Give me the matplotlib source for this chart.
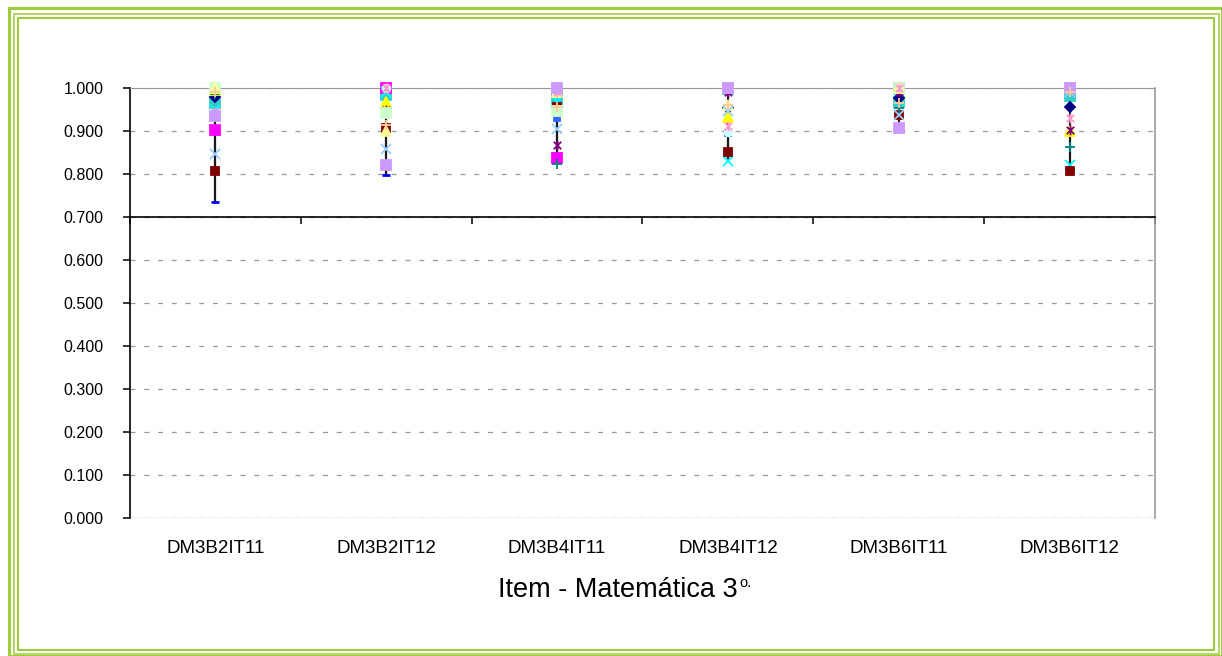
import matplotlib
matplotlib.use("Agg")
import matplotlib.pyplot as plt
from matplotlib.patches import Rectangle
from matplotlib.path import Path
from matplotlib.transforms import blended_transform_factory
import numpy as np

plt.rcParams["font.family"] = ["Liberation Sans", "DejaVu Sans"]

categories = ["DM3B2IT11", "DM3B2IT12", "DM3B4IT11", "DM3B4IT12", "DM3B6IT11", "DM3B6IT12"]

s01_navy = [0.979, 0.953, 0.956, 0.953, 0.977, 0.956]
s02_magenta = [0.902, 1.000, 0.838, 1.000, 1.000, 1.000]
s03_yellow = [0.995, 0.968, 0.990, 0.933, 1.000, 0.900]
s04_cyan = [0.950, 0.990, 0.970, 0.830, 0.995, 0.820]
s05_purple = [1.000, 0.950, 0.867, 0.990, 0.990, 0.902]
s06_darkred = [0.807, 0.907, 0.955, 0.851, 0.937, 0.807]
s07_teal = [0.985, 0.945, 0.823, 0.960, 0.953, 0.863]
s08_blue = [0.735, 0.797, 0.990, 0.990, 0.990, 0.990]
s09_aqua = [0.965, 0.984, 0.975, 0.997, 0.968, 0.981]
s10_turq = [1.000, 1.000, 1.000, 0.898, 1.000, 1.000]
s11_lgreen = [1.000, 0.942, 0.947, 1.000, 1.000, 1.000]
s12_lyellow = [1.000, 0.900, 0.990, 0.960, 1.000, 1.000]
s13_paleblue = [0.847, 0.858, 0.905, 0.947, 0.937, 0.990]
s14_rose = [0.945, 1.000, 0.990, 0.912, 1.000, 0.930]
s15_lavender = [0.935, 0.820, 1.000, 1.000, 0.907, 1.000]
s16_tan = [0.990, 0.914, 0.955, 0.960, 0.965, 0.990]
s17_royal = [0.990, 0.990, 0.930, 0.895, 0.975, 0.990]

y_ticks = [0.0, 0.1, 0.2, 0.3, 0.4, 0.5, 0.6, 0.7, 0.8, 0.9, 1.0]
x_title = "Item - Matemática 3"

# excel style asterisk: x with a vertical bar
star = Path([(-1, -1), (1, 1), (-1, 1), (1, -1), (0, -1.3), (0, 1.3)],
            [Path.MOVETO, Path.LINETO, Path.MOVETO, Path.LINETO, Path.MOVETO, Path.LINETO])

# draw order matters: later series sit on top
series = [
    (s17_royal, "#3366FF", "s", 4),
    (s09_aqua, "#33CCCC", "s", 6.5),
    (s01_navy, "#000080", "D", 5.5),
    (s02_magenta, "#FF00FF", "s", 6.5),
    (s03_yellow, "#FFFF00", "^", 6.5),
    (s04_cyan, "#00FFFF", "x", 6.5),
    (s05_purple, "#800080", star, 7),
    (s06_darkred, "#800000", "s", 6),
    (s07_teal, "#008080", "+", 7.5),
    (s08_blue, "#0000FF", "_", 6),
    (s10_turq, "#CCFFFF", "o", 5.5),
    (s11_lgreen, "#CCFFCC", "s", 6.5),
    (s12_lyellow, "#FFFF99", "^", 6.5),
    (s13_paleblue, "#99CCFF", "x", 7.5),
    (s14_rose, "#FF99CC", star, 7),
    (s15_lavender, "#CC99FF", "s", 6.5),
    (s16_tan, "#FFCC99", "+", 7.5),
]

W, H = 1222, 656
fig = plt.figure(figsize=(W / 100, H / 100), dpi=100)
ax = fig.add_axes([130 / W, 1 - 518 / H, 1025 / W, 430 / H])

x = np.arange(len(categories))
allvals = np.array([s[0] for s in series])
ax.vlines(x, allvals.min(axis=0), allvals.max(axis=0), color="#1a1a1a", lw=1.6, zorder=3)

for vals, col, mk, ms in series:
    ax.plot(x, vals, linestyle="none", marker=mk, color=col, ms=ms,
            mec=col, mew=2 if mk == "_" else 1.3, zorder=4, clip_on=False)

ax.set_xlim(-0.5, len(categories) - 0.5)
ax.set_ylim(0, 1)
ax.set_yticks(y_ticks)
ax.set_yticklabels([f"{v:.3f}" for v in y_ticks])
ax.yaxis.grid(True, color="#999999", linestyle=(0, (4, 7)), lw=0.9)
ax.set_axisbelow(True)
ax.axhline(0, color="#b0b0b0", lw=0.9, zorder=0)

ax.spines["bottom"].set_position(("data", 0.7))
ax.spines["bottom"].set_linewidth(1.2)
ax.spines["left"].set_linewidth(1.2)
ax.spines["top"].set_color("#999999")
ax.spines["right"].set_color("#999999")
ax.spines["right"].set_linewidth(1.2)

ax.set_xticks(np.arange(-0.5, len(categories), 1.0))
ax.set_xticklabels([])
ax.tick_params(axis="x", direction="out", length=5, width=1.1)
ax.tick_params(axis="y", direction="out", length=5, width=1.1, labelsize=11.5, pad=14)

trans = blended_transform_factory(ax.transData, ax.transAxes)
for i, c in enumerate(categories):
    ax.text(i, -0.072, c, transform=trans, ha="center", va="center", fontsize=13.5)

t = fig.text(498 / W, 1 - 590 / H, x_title, ha="left", va="center", fontsize=19.5)
ax.annotate("o.", xy=(1, 1), xycoords=t, xytext=(1, 1), textcoords="offset points",
            ha="left", va="top", fontsize=10.5)

green = "#9FCC3B"
for (x0, y0, x1, y1, lw) in [(8.5, 8, 1221.5, 655.5, 2.2),
                             (14, 13.5, 1218.5, 654, 1.1),
                             (18.3, 18.3, 1214.3, 649.7, 1.5)]:
    fig.add_artist(Rectangle((x0 / W, 1 - y1 / H), (x1 - x0) / W, (y1 - y0) / H,
                             transform=fig.transFigure, fill=False, ec=green, lw=lw))

fig.savefig("out.png", dpi=100)
